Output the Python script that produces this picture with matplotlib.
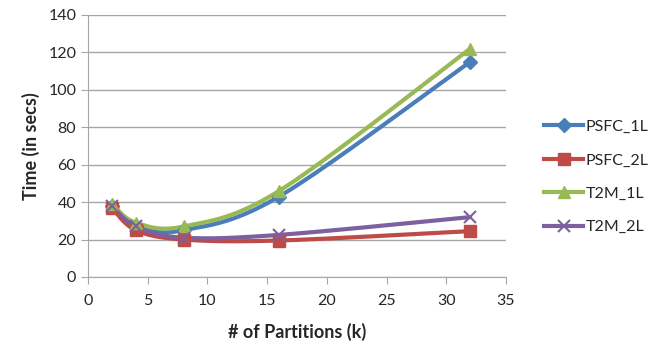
import numpy as np
import matplotlib
matplotlib.use("Agg")
import matplotlib.pyplot as plt
from matplotlib.lines import Line2D

partitions = [2, 4, 8, 16, 32]
psfc_1l = [38, 27, 25, 43, 115]
psfc_2l = [37, 25, 20, 19.5, 24.5]
t2m_1l = [39, 29, 27, 46, 122]
t2m_2l = [38, 27, 21, 22.5, 32]

series = [
    ("PSFC_1L", psfc_1l, "#4A7EBB", "D", 7),
    ("PSFC_2L", psfc_2l, "#BE4B48", "s", 8),
    ("T2M_1L", t2m_1l, "#98B954", "^", 9),
    ("T2M_2L", t2m_2l, "#7D60A0", "x", 8),
]

def smooth(xs, ys, n=40):
    xs = np.asarray(xs, float); ys = np.asarray(ys, float)
    px = np.concatenate([[xs[0]], xs, [xs[-1]]])
    py = np.concatenate([[ys[0]], ys, [ys[-1]]])
    ox, oy = [], []
    t = np.linspace(0, 1, n)
    for i in range(1, len(px) - 2):
        p0 = np.array([px[i], py[i]]); p3 = np.array([px[i+1], py[i+1]])
        p1 = p0 + (np.array([px[i+1], py[i+1]]) - np.array([px[i-1], py[i-1]])) / 6
        p2 = p3 - (np.array([px[i+2], py[i+2]]) - np.array([px[i], py[i]])) / 6
        b = ((1-t)**3)[:, None]*p0 + (3*(1-t)**2*t)[:, None]*p1 + (3*(1-t)*t**2)[:, None]*p2 + (t**3)[:, None]*p3
        ox.extend(b[:, 0]); oy.extend(b[:, 1])
    return np.array(ox), np.array(oy)

plt.rcParams['font.family'] = ['Lato', 'DejaVu Sans']
fig = plt.figure(figsize=(6.52, 3.41), dpi=100)
ax = fig.add_axes([88/652, 1-277/341, (506-88)/652, (277-15)/341])

handles = []
for name, vals, col, mk, ms in series:
    sx, sy = smooth(partitions, vals)
    ax.plot(sx, sy, color=col, lw=3, solid_capstyle='round', zorder=3)
    if mk == 'x':
        ax.plot(partitions, vals, ls='none', marker=mk, color=col, ms=ms, mew=1.5, zorder=4)
    else:
        ax.plot(partitions, vals, ls='none', marker=mk, color=col, ms=ms, zorder=4)
    handles.append(Line2D([0], [0], color=col, lw=3, marker=mk, ms=ms, mew=1.5 if mk == 'x' else 1))

ax.set_xlim(0, 35)
ax.set_ylim(0, 140)
ax.set_xticks(range(0, 36, 5))
ax.set_yticks(range(0, 141, 20))
ax.grid(axis='y', color='#A6A6A6', lw=1)
ax.set_axisbelow(True)
for s in ['top', 'right']:
    ax.spines[s].set_visible(False)
for s in ['left', 'bottom']:
    ax.spines[s].set_color('#A6A6A6')
ax.tick_params(colors='#A6A6A6', labelcolor='#262626', labelsize=11.5, length=5, direction='out')
ax.tick_params(axis='x', pad=7)
ax.set_xlabel('# of Partitions (k)', fontsize=13, fontweight='bold', color='#262626', labelpad=11)
ax.set_ylabel('Time (in secs)', fontsize=13, fontweight='bold', color='#262626', labelpad=6)

fig.legend(handles, [s[0] for s in series], loc='center left', bbox_to_anchor=(530/652, 1-177/341),
           frameon=False, fontsize=11.5, handlelength=2.4, labelspacing=1.2, handletextpad=0.2,
           labelcolor='#262626')

fig.savefig('out.png', dpi=100)
